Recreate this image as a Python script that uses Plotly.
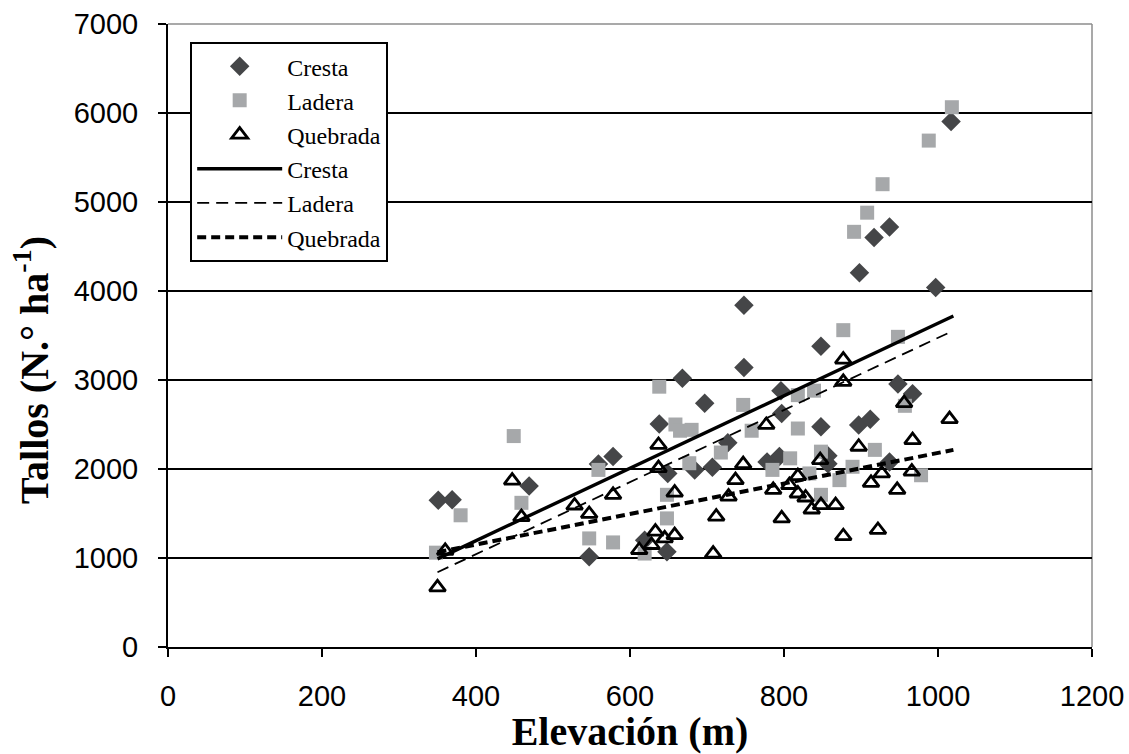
import plotly.graph_objects as go

# Cresta (dark diamonds)
cresta_x = [351, 369, 469, 547, 559, 578, 619, 638, 648, 649, 668, 684, 697, 707, 727, 748, 748,
            778, 794, 796, 797, 848, 848, 857, 857, 897, 898, 912, 917, 937, 937, 948, 967, 997, 1017]
cresta_y = [1650, 1655, 1810, 1015, 2055, 2140, 1200, 2505, 1070, 1950, 3020, 1990, 2740, 2020, 2296, 3140, 3840,
            2080, 2140, 2880, 2625, 3380, 2475, 2150, 2060, 2495, 4205, 2560, 4600, 4720, 2080, 2955, 2845, 4040, 5905]

# Ladera (light grey squares)
ladera_x = [348, 380, 449, 459, 547, 559, 578, 619, 638, 648, 648, 659, 665, 677, 680, 718, 747, 758,
            785, 808, 818, 818, 833, 839, 848, 848, 872, 877, 889, 891, 908, 918, 928, 948, 957, 978, 988, 1018]
ladera_y = [1060, 1480, 2370, 1620, 1220, 1990, 1175, 1050, 2925, 1710, 1445, 2500, 2430, 2065, 2440, 2185, 2720, 2430,
            1990, 2120, 2830, 2455, 1950, 2880, 2195, 1710, 1875, 3560, 2025, 4665, 4880, 2215, 5200, 3485, 2710, 1930, 5690, 6065]

# Quebrada (open triangles)
quebrada_x = [350, 360, 447, 459, 528, 547, 578, 612, 628, 633, 637, 637, 645, 658, 658, 708, 712, 728, 737, 747,
              777, 786, 797, 807, 818, 818, 828, 836, 847, 848, 867, 877, 877, 877, 897, 913, 922, 927, 947, 956,
              966, 967, 1015]
quebrada_y = [670, 1080, 1870, 1460, 1590, 1495, 1710, 1090, 1146, 1296, 2270, 2010, 1221, 1258, 1735, 1050, 1465, 1690, 1875, 2055,
              2495, 1765, 1445, 1820, 1920, 1725, 1680, 1545, 2100, 1595, 1595, 3230, 2980, 1245, 2250, 1845, 1315, 1950, 1765, 2740,
              1970, 2325, 2560]

# Trend lines (endpoints)
trend_x = [350, 1020]
trend_cresta = [990, 3720]
trend_ladera = [840, 3555]
trend_quebrada = [1065, 2215]

x_ticks = [0, 200, 400, 600, 800, 1000, 1200]
y_ticks = [0, 1000, 2000, 3000, 4000, 5000, 6000, 7000]

SERIF = "Liberation Serif, Times New Roman, serif"
SANS = "Liberation Sans, Arial, sans-serif"

fig = go.Figure()
fig.add_trace(go.Scatter(x=cresta_x, y=cresta_y, mode="markers", name="Cresta",
                         marker=dict(symbol="diamond", size=15, color="#454648", line=dict(width=0))))
fig.add_trace(go.Scatter(x=ladera_x, y=ladera_y, mode="markers", name="Ladera",
                         marker=dict(symbol="square", size=14, color="#a6a8aa", line=dict(width=0))))
fig.add_trace(go.Scatter(x=quebrada_x, y=quebrada_y, mode="markers", name="Quebrada",
                         marker=dict(symbol="triangle-up-open", size=14, color="black", line=dict(width=2.8, color="black"))))
fig.add_trace(go.Scatter(x=trend_x, y=trend_cresta, mode="lines", name="Cresta",
                         line=dict(color="black", width=3.4)))
fig.add_trace(go.Scatter(x=trend_x, y=trend_ladera, mode="lines", name="Ladera",
                         line=dict(color="black", width=1.8, dash="12px,7px")))
fig.add_trace(go.Scatter(x=trend_x, y=trend_quebrada, mode="lines", name="Quebrada",
                         line=dict(color="black", width=4, dash="9px,5px")))

# plot-area border (grey, top and right)
fig.add_shape(type="line", xref="paper", yref="paper", x0=0, x1=1, y0=1, y1=1,
              line=dict(color="#8c8c8c", width=1.5), layer="below")
fig.add_shape(type="line", xref="paper", yref="paper", x0=1, x1=1, y0=0, y1=1,
              line=dict(color="#8c8c8c", width=1.5), layer="below")

# y-axis title
fig.add_annotation(text="<b>Tallos (N.° ha<sup>-1</sup>)</b>", xref="paper", yref="paper",
                   x=-0.147, y=0.445, xanchor="center", yanchor="middle", textangle=-90,
                   showarrow=False, font=dict(family=SERIF, size=40, color="black"))

fig.update_layout(
    width=1129, height=754,
    margin=dict(l=168, r=37, t=24, b=107, autoexpand=False),
    paper_bgcolor="white", plot_bgcolor="white",
    showlegend=True,
    legend=dict(x=0.024, y=0.971, xanchor="left", yanchor="top",
                bgcolor="white", bordercolor="black", borderwidth=2,
                font=dict(family=SERIF, size=24, color="black"),
                tracegroupgap=0, itemwidth=85),
    xaxis=dict(range=[0, 1200], tickvals=x_ticks, ticktext=[str(v) for v in x_ticks],
               automargin=False,
               showgrid=False, zeroline=False, showline=True, linecolor="black", linewidth=2,
               ticks="outside", ticklen=8, tickwidth=2, tickcolor="black", ticklabelstandoff=14,
               tickfont=dict(family=SANS, size=29, color="black"),
               title=dict(text="<b>Elevación (m)</b>", standoff=10,
                          font=dict(family=SERIF, size=40, color="black"))),
    yaxis=dict(range=[0, 7000], tickvals=y_ticks, ticktext=[str(v) for v in y_ticks],
               automargin=False,
               showgrid=True, gridcolor="black", gridwidth=2, zeroline=False,
               showline=True, linecolor="black", linewidth=2,
               ticks="outside", ticklen=8, tickwidth=2, tickcolor="black", ticklabelstandoff=14,
               tickfont=dict(family=SANS, size=29, color="black")),
)

fig.write_html("out.html")
